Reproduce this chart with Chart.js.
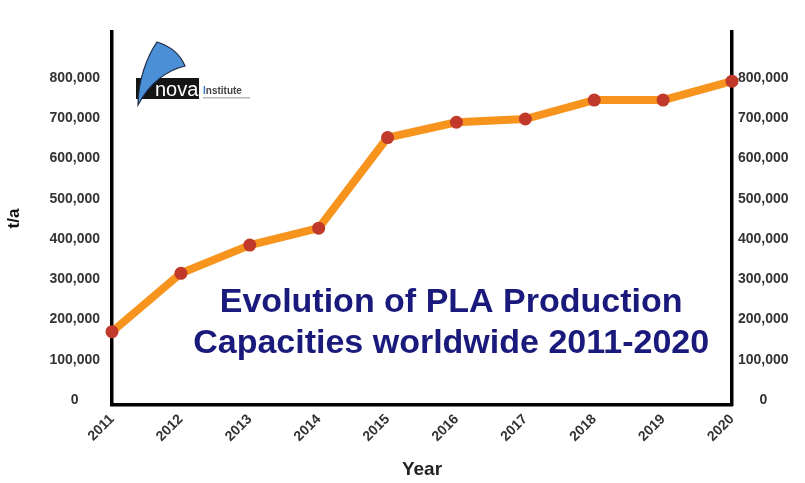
<!DOCTYPE html>
<html>
<head>
<meta charset="utf-8">
<script src="https://cdn.jsdelivr.net/npm/chart.js@4.4.1/dist/chart.umd.min.js"></script>
<style>
  html, body { margin: 0; padding: 0; background: #ffffff; }
  #wrap { width: 805px; height: 483px; }
</style>
</head>
<body>
<div id="wrap"><canvas id="c" width="805" height="483"></canvas></div>
<script>
// ---- data ----
const years = ['2011', '2012', '2013', '2014', '2015', '2016', '2017', '2018', '2019', '2020'];
const capacity = [170000, 315000, 385000, 427000, 652000, 690000, 698000, 745000, 745000, 792000];
const yTickValues = [0, 100000, 200000, 300000, 400000, 500000, 600000, 700000, 800000];
const titleLines = ['Evolution of PLA Production', 'Capacities worldwide 2011-2020'];
const yAxisTitle = 't/a';
const xAxisTitle = 'Year';

const FONT = '"Liberation Sans", Arial, Helvetica, sans-serif';
const fmt = v => Number(v).toLocaleString('en-US');

const innerTitle = {
  id: 'innerTitle',
  afterDatasetsDraw(chart) {
    const ctx = chart.ctx;
    const a = chart.chartArea;
    ctx.save();
    ctx.fillStyle = '#1a1a7c';
    ctx.font = 'bold 34px ' + FONT;
    ctx.textAlign = 'center';
    ctx.textBaseline = 'alphabetic';
    const cx = a.left + (a.right - a.left) * 0.547;
    ctx.fillText(titleLines[0], cx, a.top + 280);
    ctx.fillText(titleLines[1], cx, a.top + 321);
    ctx.restore();
  }
};

const logo = {
  id: 'logo',
  afterDraw(chart) {
    const ctx = chart.ctx;
    ctx.save();
    // black bar
    ctx.fillStyle = '#151515';
    ctx.fillRect(136, 78, 63, 21);
    // blue sail
    ctx.beginPath();
    ctx.moveTo(138, 105);
    ctx.bezierCurveTo(138, 82, 146, 58, 157, 42);
    ctx.bezierCurveTo(170, 46, 180, 54, 185, 66);
    ctx.bezierCurveTo(168, 70, 150, 82, 138, 105);
    ctx.closePath();
    ctx.fillStyle = '#4b8fd6';
    ctx.fill();
    ctx.lineWidth = 1.2;
    ctx.strokeStyle = '#1a2a44';
    ctx.stroke();
    // "nova"
    ctx.fillStyle = '#ffffff';
    ctx.font = '20px ' + FONT;
    ctx.textBaseline = 'alphabetic';
    ctx.textAlign = 'left';
    ctx.fillText('nova', 155, 96);
    // "Institute"
    ctx.font = 'bold 10px ' + FONT;
    ctx.fillStyle = '#3c78c8';
    ctx.fillText('I', 203, 94);
    const w = ctx.measureText('I').width;
    ctx.fillStyle = '#444444';
    ctx.fillText('nstitute', 203 + w, 94);
    // tagline bar
    ctx.fillStyle = '#b8b8b8';
    ctx.fillRect(203, 97, 47, 1.5);
    ctx.restore();
  }
};

const tickFont = { family: FONT, size: 14, weight: 'bold' };

new Chart(document.getElementById('c'), {
  type: 'line',
  data: {
    labels: years,
    datasets: [{
      data: capacity,
      yAxisID: 'y',
      borderColor: '#f7941e',
      borderWidth: 8,
      borderJoinStyle: 'round',
      borderCapStyle: 'round',
      tension: 0,
      pointRadius: 6.5,
      pointBackgroundColor: '#c0392b',
      pointBorderColor: '#c0392b',
      pointBorderWidth: 0,
      clip: false,
      fill: false
    }]
  },
  options: {
    responsive: false,
    devicePixelRatio: 1,
    animation: false,
    layout: { padding: { top: 32, left: 0, right: 0, bottom: 0 } },
    plugins: { legend: { display: false }, tooltip: { enabled: false }, title: { display: false } },
    scales: {
      x: {
        type: 'category',
        offset: false,
        grid: { display: false, drawTicks: false },
        border: { display: true, color: '#000000', width: 3.5 },
        ticks: { color: '#333333', font: tickFont, minRotation: 45, maxRotation: 45, padding: 6, autoSkip: false },
        title: { display: true, text: xAxisTitle, color: '#222222', font: { family: FONT, size: 19, weight: 'bold' }, padding: { top: 0, bottom: 2 } },
        afterFit(s) { s.height = 78; }
      },
      y: {
        position: 'left',
        min: -12000,
        max: 914000,
        grid: { display: false, drawTicks: false },
        border: { display: true, color: '#000000', width: 3.5 },
        afterBuildTicks(s) { s.ticks = yTickValues.map(v => ({ value: v })); },
        ticks: { color: '#333333', font: tickFont, crossAlign: 'center', padding: 12, callback: v => fmt(v) },
        title: { display: true, text: yAxisTitle, color: '#111111', font: { family: FONT, size: 17, weight: 'bold' }, padding: 4 },
        afterFit(s) { s.width = 112; }
      },
      y2: {
        position: 'right',
        min: -12000,
        max: 914000,
        grid: { display: false, drawTicks: false },
        border: { display: true, color: '#000000', width: 3.5 },
        afterBuildTicks(s) { s.ticks = yTickValues.map(v => ({ value: v })); },
        ticks: { color: '#333333', font: tickFont, crossAlign: 'center', padding: 6, callback: v => fmt(v) },
        afterFit(s) { s.width = 73; }
      }
    }
  },
  plugins: [innerTitle, logo]
});
</script>
</body>
</html>
